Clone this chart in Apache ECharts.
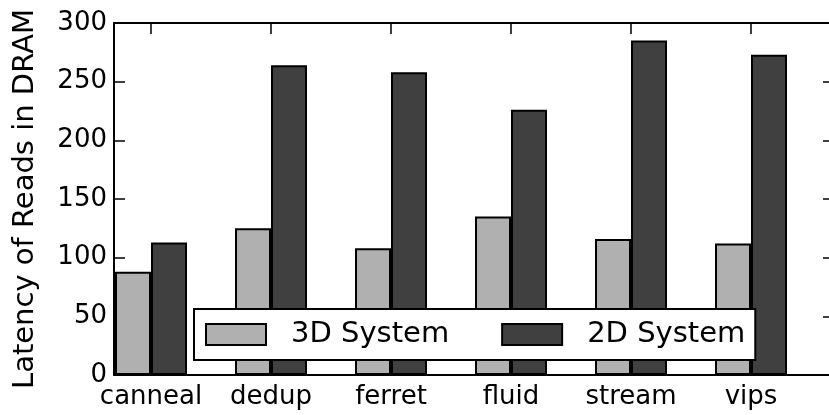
<!DOCTYPE html>
<html>
<head>
<meta charset="utf-8">
<script src="https://cdn.jsdelivr.net/npm/echarts@6/dist/echarts.min.js"></script>
<style>
  html, body { margin: 0; padding: 0; background: #fff; }
  #chart { width: 829px; height: 415px; }
</style>
</head>
<body>
<div id="chart"></div>
<script>
// Benchmarks on the x axis
const categories = ['canneal', 'dedup', 'ferret', 'fluid', 'stream', 'vips'];
// Average DRAM read latency per benchmark
const latency3D = [88, 125, 108, 135, 116, 112];
const latency2D = [113, 264, 258, 226, 285, 273];
// Y axis ticks
const yTicks = [0, 50, 100, 150, 200, 250, 300];

const FONT = 'DejaVu Sans';
const Y_MIN = yTicks[0], Y_MAX = yTicks[yTicks.length - 1];

const chart = echarts.init(document.getElementById('chart'), null, { renderer: 'canvas' });

const frameLine = { show: true, onZero: false, lineStyle: { color: '#000', width: 2 } };
const inTick = { show: true, inside: true, length: 11, lineStyle: { color: '#000', width: 1.5 } };
const catTick = { show: true, inside: true, length: 11, interval: 0, alignWithLabel: true,
                  lineStyle: { color: '#000', width: 1.5 } };

chart.setOption({
  animation: false,
  backgroundColor: '#fff',
  grid: [
    // grid 0: category bands (120 px each) that carry the bars and category labels
    { left: 91, right: 18, top: 23, bottom: 40 },
    // grid 1: the plot frame with the value scale
    { left: 114, right: 0, top: 23, bottom: 40 }
  ],
  xAxis: [
    {
      gridIndex: 0, type: 'category', position: 'bottom', data: categories,
      boundaryGap: true,
      axisLine: { show: false, onZero: false },
      axisTick: catTick,
      axisLabel: { interval: 0, color: '#000', fontFamily: FONT, fontSize: 26, margin: 9 },
      splitLine: { show: false }
    },
    {
      gridIndex: 0, type: 'category', position: 'top', data: categories,
      boundaryGap: true,
      axisLine: { show: false, onZero: false },
      axisTick: catTick,
      axisLabel: { show: false },
      splitLine: { show: false }
    },
    {
      gridIndex: 1, type: 'value', position: 'bottom', min: 0, max: 1,
      axisLine: frameLine, axisTick: { show: false }, axisLabel: { show: false },
      splitLine: { show: false }
    },
    {
      gridIndex: 1, type: 'value', position: 'top', min: 0, max: 1,
      axisLine: frameLine, axisTick: { show: false }, axisLabel: { show: false },
      splitLine: { show: false }
    }
  ],
  yAxis: [
    {
      gridIndex: 0, type: 'value', min: Y_MIN, max: Y_MAX, interval: 50,
      show: false
    },
    {
      gridIndex: 1, type: 'value', position: 'left',
      min: Y_MIN, max: Y_MAX, interval: 50,
      axisLine: frameLine,
      axisTick: inTick,
      axisLabel: { color: '#000', fontFamily: FONT, fontSize: 26, margin: 7 },
      splitLine: { show: false },
      name: 'Latency of Reads in DRAM',
      nameLocation: 'middle',
      nameGap: 74,
      nameTextStyle: { color: '#000', fontFamily: FONT, fontSize: 29 }
    },
    {
      // right side of the frame: only the tick marks reach into view
      gridIndex: 1, type: 'value', position: 'right',
      min: Y_MIN, max: Y_MAX, interval: 50,
      axisLine: { show: false, onZero: false },
      axisTick: { show: true, inside: true, length: 6, lineStyle: { color: '#000', width: 1.5 } },
      axisLabel: { show: false },
      splitLine: { show: false }
    }
  ],
  legend: {
    left: 194, top: 309,
    orient: 'horizontal',
    backgroundColor: '#fff',
    borderColor: '#000',
    borderWidth: 2,
    borderRadius: 0,
    padding: [11, 10, 11, 11],
    itemWidth: 60,
    itemHeight: 21,
    itemGap: 52,
    icon: 'rect',
    itemStyle: { borderColor: '#000', borderWidth: 2 },
    formatter: name => '{t|' + name + '}',
    textStyle: {
      color: '#000', fontFamily: FONT, fontSize: 29,
      rich: { t: { fontFamily: FONT, fontSize: 29, color: '#000', padding: [0, 0, 0, 20] } }
    },
    data: ['3D System', '2D System']
  },
  series: [
    {
      name: '3D System', type: 'bar',
      xAxisIndex: 0, yAxisIndex: 0,
      barWidth: 36, barGap: '0%',
      itemStyle: { color: '#b0b0b0', borderColor: '#000', borderWidth: 2 },
      data: latency3D
    },
    {
      name: '2D System', type: 'bar',
      xAxisIndex: 0, yAxisIndex: 0,
      barWidth: 36, barGap: '0%',
      itemStyle: { color: '#404040', borderColor: '#000', borderWidth: 2 },
      data: latency2D
    }
  ]
});
</script>
</body>
</html>
